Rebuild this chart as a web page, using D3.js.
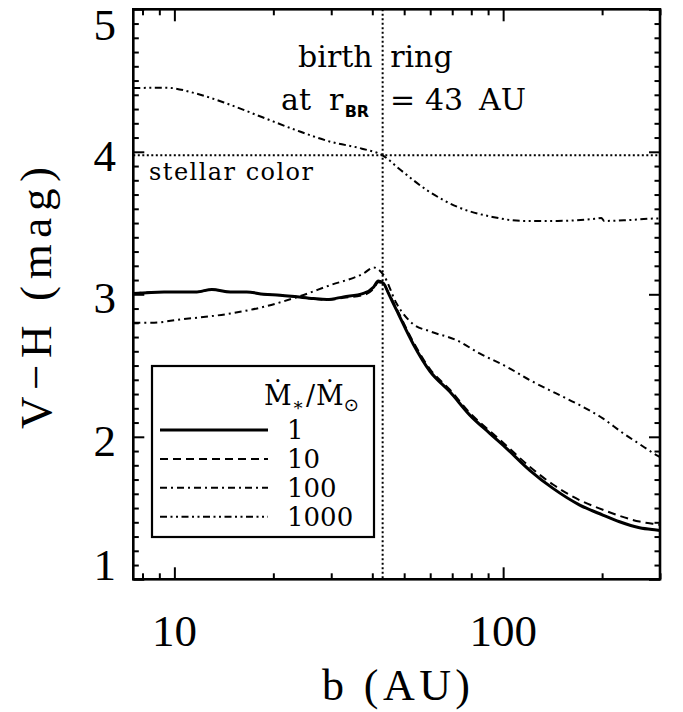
<!DOCTYPE html>
<html><head><meta charset="utf-8">
<script src="https://cdn.jsdelivr.net/npm/d3@7"></script>
<style>body{margin:0;background:#fff}</style>
</head><body>
<svg id="chart" width="683" height="712"></svg>
<script>
// ---- data ----
const seriesLabels = ["1", "10", "100", "1000"];
const bSolid = [7.5, 9.3, 11.7, 13.0, 14.8, 16.6, 18.7, 21.0, 23.6, 26.5, 29.1, 32.7, 37.6, 40.4, 41.7, 43.3, 44.8, 47.4, 53.3, 59.9, 68.9, 79.2, 91.2, 101.2, 120.5, 141.8, 171, 201, 226, 260, 292.5, 300];
const vSolid = [3.006, 3.017, 3.017, 3.034, 3.017, 3.017, 3.0, 2.994, 2.982, 2.97, 2.964, 2.982, 3.006, 3.052, 3.094, 3.076, 3.006, 2.889, 2.65, 2.46, 2.316, 2.152, 2.023, 1.930, 1.765, 1.638, 1.521, 1.451, 1.404, 1.362, 1.346, 1.343];
const bDashed = [7.5, 9.3, 11.7, 13.0, 14.8, 16.6, 18.7, 21.0, 23.6, 26.5, 29.1, 32.7, 37.6, 40.4, 41.7, 43.3, 44.8, 47.4, 53.3, 59.9, 68.9, 79.2, 91.2, 101.2, 120.5, 141.8, 171, 201, 226, 260, 292.5, 300];
const vDashed = [3.006, 3.017, 3.017, 3.034, 3.017, 3.017, 3.0, 2.994, 2.982, 2.97, 2.96, 2.975, 2.995, 3.04, 3.085, 3.07, 3.01, 2.90, 2.665, 2.475, 2.33, 2.168, 2.04, 1.948, 1.79, 1.665, 1.555, 1.488, 1.445, 1.405, 1.386, 1.382];
const bDashDot = [7.5, 8.5, 10.4, 14.8, 18.7, 23.6, 29.8, 37.6, 40.4, 43.3, 47.4, 53.3, 59.9, 72.2, 84.8, 102.6, 120.5, 145, 171, 201, 232, 258, 292.5, 300];
const vDashDot = [2.80, 2.80, 2.823, 2.865, 2.912, 2.98, 3.064, 3.146, 3.188, 3.134, 2.935, 2.79, 2.74, 2.678, 2.585, 2.491, 2.398, 2.304, 2.222, 2.129, 2.024, 1.954, 1.872, 1.858];
const bDashDotDot = [7.5, 9.43, 11.68, 14.46, 18.45, 23.5, 30.0, 37.2, 43, 48.9, 58.7, 72.7, 92.8, 114.9, 146.6, 190, 199, 203, 238.7, 295, 300];
const vDashDotDot = [4.447, 4.450, 4.408, 4.338, 4.244, 4.151, 4.069, 4.022, 3.975, 3.870, 3.730, 3.613, 3.543, 3.515, 3.515, 3.53, 3.535, 3.515, 3.520, 3.532, 3.532];
const stellarColor = 3.975;
const birthRing = 43;
const xMajorTicks = [10, 100];
const xMinorTicks = [8, 9, 20, 30, 40, 50, 60, 70, 80, 90, 200, 300];
const yMajorTicks = [1, 2, 3, 4, 5];
const yMinorTicks = d3.range(10, 51).filter(i => i % 10 !== 0).map(i => i / 10);
const xDomain = [7.5, 300];
const yDomain = [1, 5];

// ---- layout ----
const L = 133.3, R = 660, T = 9.3, B = 579.3;
const svg = d3.select("#chart");
const x = d3.scaleLog().domain(xDomain).range([L, R]);
const y = d3.scaleLinear().domain(yDomain).range([B, T]);

const series = [
  {label: seriesLabels[0], b: bSolid, v: vSolid, dash: null, w: 3},
  {label: seriesLabels[1], b: bDashed, v: vDashed, dash: "8,5", w: 2},
  {label: seriesLabels[2], b: bDashDot, v: vDashDot, dash: "7,4,2,4", w: 2},
  {label: seriesLabels[3], b: bDashDotDot, v: vDashDotDot, dash: "7,3.5,2,3.5,2,3.5", w: 2}
];

const line = d3.line().x(d => x(d[0])).y(d => y(d[1])).curve(d3.curveMonotoneX);

// reference lines
svg.append("line").attr("x1", L).attr("x2", R).attr("y1", y(stellarColor)).attr("y2", y(stellarColor))
  .attr("stroke", "#000").attr("stroke-width", 2).attr("stroke-dasharray", "2,2.5");
svg.append("line").attr("x1", x(birthRing)).attr("x2", x(birthRing)).attr("y1", T).attr("y2", B)
  .attr("stroke", "#000").attr("stroke-width", 2).attr("stroke-dasharray", "2,2.5");

// series
svg.append("clipPath").attr("id", "clip").append("rect").attr("x", L).attr("y", T).attr("width", R - L).attr("height", B - T);
series.forEach(s => {
  svg.append("path").datum(s.b.map((b, i) => [b, s.v[i]]))
    .attr("d", line).attr("fill", "none").attr("stroke", "#000")
    .attr("stroke-width", s.w).attr("stroke-dasharray", s.dash)
    .attr("stroke-linejoin", "round").attr("clip-path", "url(#clip)");
});

// axes ticks (inward, mirrored)
function ticks(axisGen, vals, size, tr) {
  const g = svg.append("g").attr("transform", tr)
    .call(axisGen.tickValues(vals).tickSize(-size).tickFormat(""));
  g.select(".domain").remove();
  g.selectAll(".tick line").attr("stroke", "#000").attr("stroke-width", 2);
}
ticks(d3.axisBottom(x), xMajorTicks, 12, `translate(0,${B})`);
ticks(d3.axisBottom(x), xMinorTicks, 6, `translate(0,${B})`);
ticks(d3.axisTop(x), xMajorTicks, 12, `translate(0,${T})`);
ticks(d3.axisTop(x), xMinorTicks, 6, `translate(0,${T})`);
ticks(d3.axisLeft(y), yMajorTicks, 11, `translate(${L},0)`);
ticks(d3.axisLeft(y), yMinorTicks, 5.5, `translate(${L},0)`);
ticks(d3.axisRight(y), yMajorTicks, 11, `translate(${R},0)`);
ticks(d3.axisRight(y), yMinorTicks, 5.5, `translate(${R},0)`);

// frame
svg.append("rect").attr("x", L).attr("y", T).attr("width", R - L).attr("height", B - T)
  .attr("fill", "none").attr("stroke", "#000").attr("stroke-width", 2.6);

// tick labels
const tickFont = "'Liberation Serif', serif";
svg.selectAll(".xl").data(xMajorTicks).enter().append("text")
  .attr("x", d => x(d)).attr("y", 646).attr("text-anchor", "middle")
  .attr("font-family", tickFont).attr("font-size", 45).text(d => d);
svg.selectAll(".yl").data(yMajorTicks).enter().append("text")
  .attr("x", 116).attr("y", d => Math.min(Math.max(y(d) + 4, T + 15.7), B - 14.3) + 15)
  .attr("text-anchor", "end").attr("font-family", tickFont).attr("font-size", 45).text(d => d);

// axis titles
const serif = "'DejaVu Serif', serif";
svg.append("text").attr("x", 396).attr("y", 700).attr("text-anchor", "middle")
  .attr("font-family", tickFont).attr("font-size", 44)
  .attr("textLength", 148).attr("lengthAdjust", "spacing").text("b (AU)");
svg.append("text").attr("transform", "translate(51,298) rotate(-90)").attr("text-anchor", "middle")
  .attr("font-family", tickFont).attr("font-size", 45)
  .attr("textLength", 262).attr("lengthAdjust", "spacing").text("V\u2212H (mag)");

// annotations
const xb = x(birthRing);
svg.append("text").attr("x", xb - 10).attr("y", 67).attr("text-anchor", "end")
  .attr("font-family", serif).attr("font-size", 30).text("birth");
svg.append("text").attr("x", xb + 7.5).attr("y", 67)
  .attr("font-family", serif).attr("font-size", 30).text("ring");
const at = svg.append("text").attr("y", 110).attr("font-family", serif).attr("font-size", 30);
at.append("tspan").attr("x", xb - 101.6).text("at");
at.append("tspan").attr("x", xb - 53.6).text("r");
at.append("tspan").attr("x", xb - 38).attr("y", 117).attr("font-family", "'DejaVu Sans', sans-serif")
  .attr("font-weight", "bold").attr("font-size", 16).text("BR");
at.append("tspan").attr("x", xb + 7.4).attr("y", 110).text("=");
at.append("tspan").attr("x", xb + 42.4).text("43");
at.append("tspan").attr("x", xb + 96.4).text("AU");

svg.append("text").attr("x", 149).attr("y", 180).attr("font-family", serif).attr("font-size", 24)
  .attr("textLength", 164).attr("lengthAdjust", "spacing").text("stellar color");

// legend
const lg = {x: 152, y: 366, w: 222, h: 171, row0: 430, dy: 28.9, lx1: 160, lx2: 268, tx: 287};
svg.append("rect").attr("x", lg.x).attr("y", lg.y).attr("width", lg.w).attr("height", lg.h)
  .attr("fill", "#fff").attr("stroke", "#000").attr("stroke-width", 2.2);
const ttl = svg.append("text").attr("x", 264).attr("y", 405).attr("font-family", serif).attr("font-size", 27);
ttl.append("tspan").text("\u1E40");
ttl.append("tspan").attr("dy", 6).attr("font-size", 18).text("\u2217");
ttl.append("tspan").attr("dy", -6).attr("dx", 2).text("/");
ttl.append("tspan").attr("dx", 1).text("\u1E40");
ttl.append("tspan").attr("dy", 6).attr("font-size", 18).attr("font-family", "'DejaVu Sans', sans-serif").text("\u2299");
series.forEach((s, i) => {
  const yy = lg.row0 + i * lg.dy;
  svg.append("line").attr("x1", lg.lx1).attr("x2", lg.lx2).attr("y1", yy).attr("y2", yy)
    .attr("stroke", "#000").attr("stroke-width", s.w).attr("stroke-dasharray", s.dash);
  svg.append("text").attr("x", lg.tx).attr("y", yy + 9).attr("font-family", serif)
    .attr("font-size", 26).text(s.label);
});
</script>
</body></html>
